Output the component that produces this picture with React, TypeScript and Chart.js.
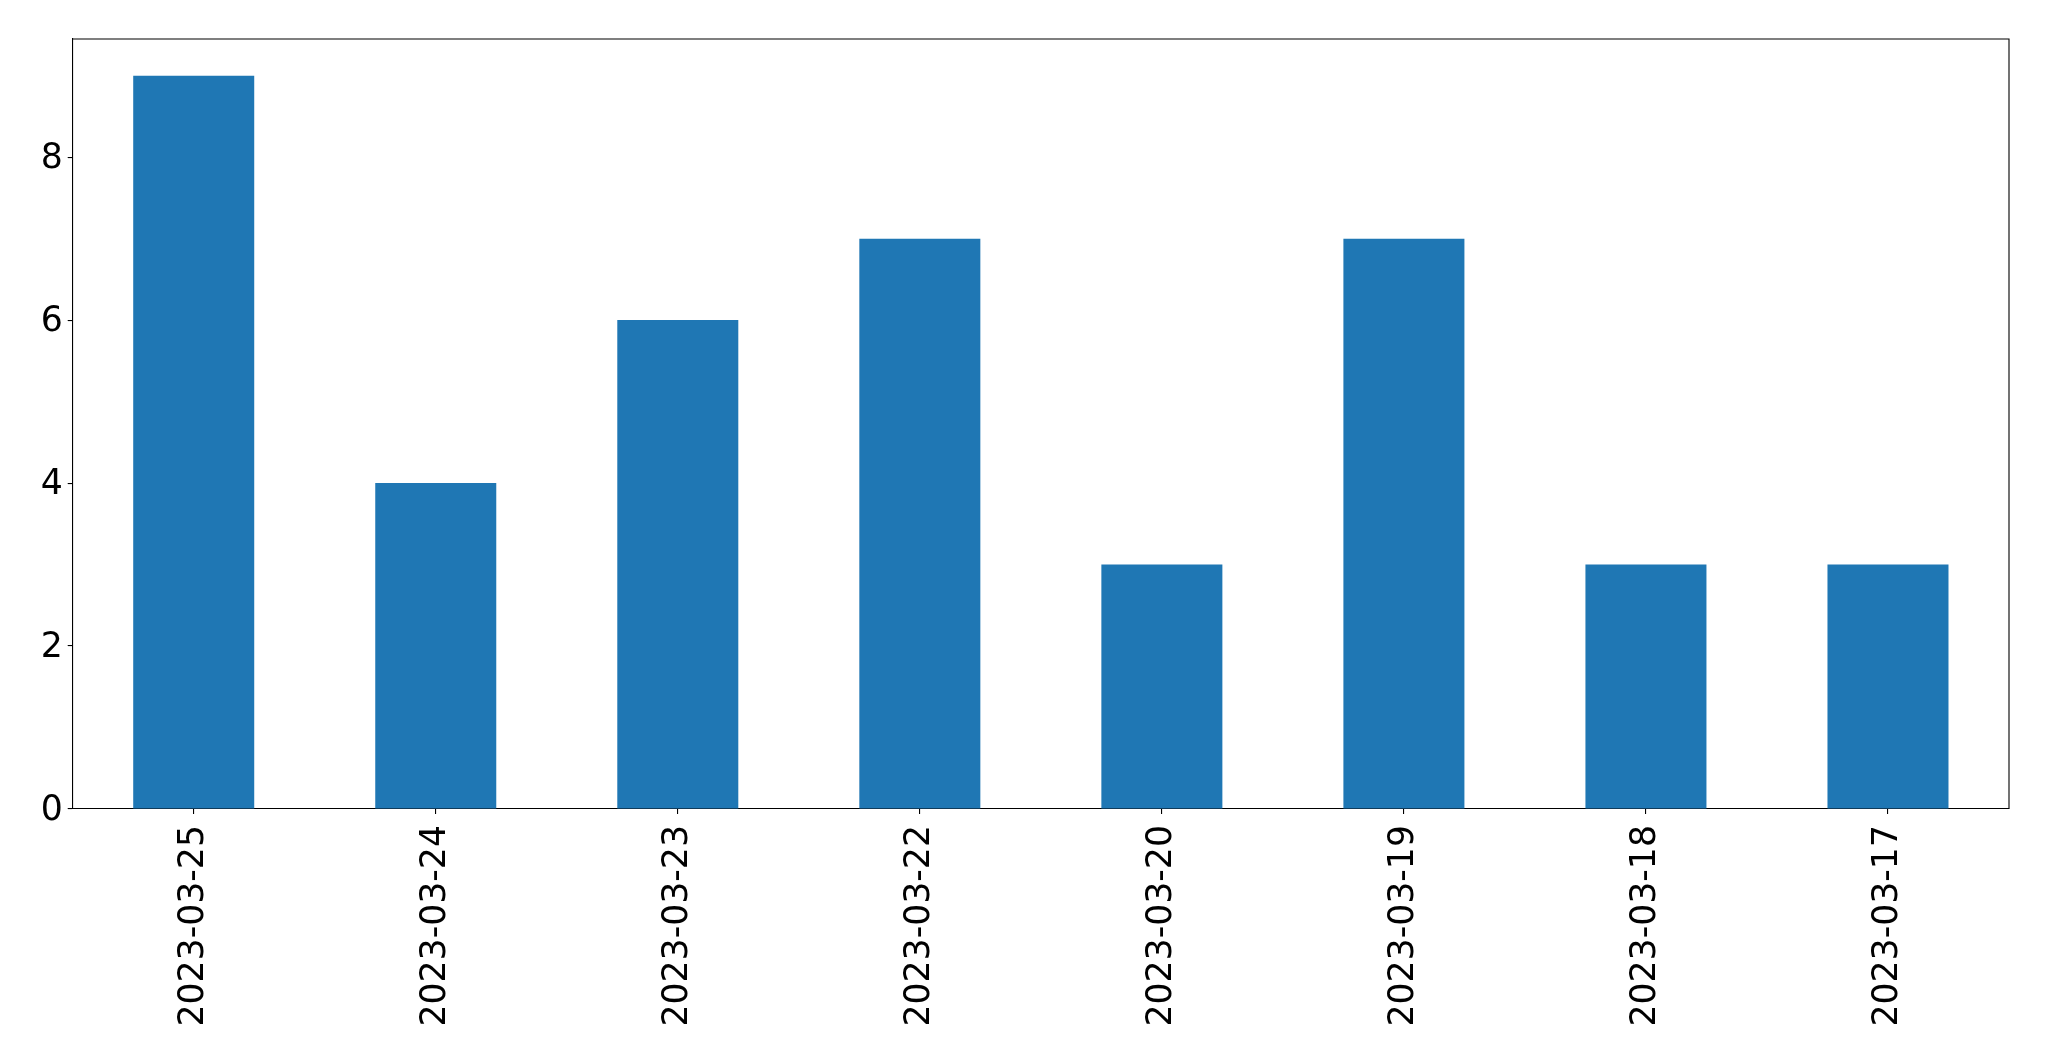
import React, { useEffect, useRef } from "react";
import { Chart, registerables } from "chart.js";

Chart.register(...registerables);

const categories: string[] = [
  "2023-03-25",
  "2023-03-24",
  "2023-03-23",
  "2023-03-22",
  "2023-03-20",
  "2023-03-19",
  "2023-03-18",
  "2023-03-17",
];
const counts: number[] = [9, 4, 6, 7, 3, 7, 3, 3];
const yTicks: number[] = [0, 2, 4, 6, 8];
const yMax = 9.45;

const W = 2049;
const H = 1061;
const FONT = "'DejaVu Sans', sans-serif";
const FS = 34.7;

const framePlugin = {
  id: "frame",
  afterDraw(chart: any) {
    const { ctx, chartArea } = chart;
    ctx.save();
    ctx.strokeStyle = "#000";
    ctx.lineWidth = 1.1;
    ctx.beginPath();
    ctx.moveTo(chartArea.left, chartArea.top);
    ctx.lineTo(chartArea.right, chartArea.top);
    ctx.lineTo(chartArea.right, chartArea.bottom);
    ctx.stroke();
    ctx.restore();
  },
};

export default function App() {
  const ref = useRef<HTMLCanvasElement | null>(null);
  useEffect(() => {
    if (!ref.current) return;
    const chart = new Chart(ref.current, {
      type: "bar",
      data: {
        labels: categories,
        datasets: [
          {
            data: counts,
            backgroundColor: "#1f77b4",
            barPercentage: 0.5,
            categoryPercentage: 1.0,
          },
        ],
      },
      options: {
        animation: false,
        responsive: false,
        devicePixelRatio: 1,
        layout: { padding: { top: 39, right: 40, left: 0, bottom: 0 } },
        plugins: {
          legend: { display: false },
          tooltip: { enabled: false },
          title: { display: false },
        },
        scales: {
          x: {
            type: "category",
            offset: true,
            grid: {
              display: true,
              offset: false,
              drawOnChartArea: false,
              drawTicks: true,
              tickLength: 5,
              color: "#000",
              lineWidth: 1.1,
            },
            border: { display: true, color: "#000", width: 1.1 },
            ticks: {
              color: "#000",
              font: { family: FONT, size: FS },
              minRotation: 90,
              maxRotation: 90,
              padding: 11,
              autoSkip: false,
            },
            afterFit: (axis: any) => {
              axis.height = H - 809;
            },
          },
          y: {
            type: "linear",
            min: 0,
            max: yMax,
            grid: {
              display: true,
              drawOnChartArea: false,
              drawTicks: true,
              tickLength: 5,
              color: "#000",
              lineWidth: 1.1,
            },
            border: { display: true, color: "#000", width: 1.1 },
            ticks: {
              color: "#000",
              font: { family: FONT, size: FS, lineHeight: 0.135 },
              padding: 5,
              callback: (v: any) => ["", String(v)],
            },
            afterBuildTicks: (axis: any) => {
              axis.ticks = yTicks.map((v) => ({ value: v }));
            },
            afterFit: (axis: any) => {
              axis.width = 72.7;
            },
          },
        },
      },
      plugins: [framePlugin],
    });
    return () => chart.destroy();
  }, []);
  return (
    <div style={{ position: "absolute", left: 0, top: 0, width: W, height: H, background: "#fff" }}>
      <canvas ref={ref} width={W} height={H} style={{ width: W, height: H, display: "block" }} />
    </div>
  );
}
